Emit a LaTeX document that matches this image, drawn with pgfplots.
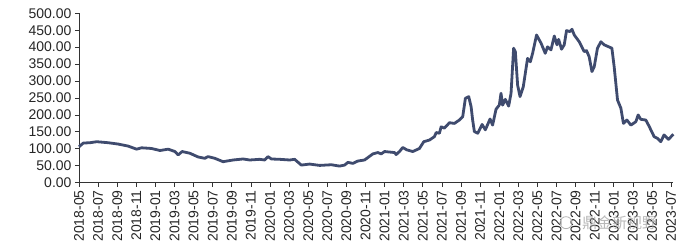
\documentclass[border=0pt]{standalone}
\usepackage{pgfplots}
\pgfplotsset{compat=1.18}
\usepackage{fontspec}
\setmainfont{Liberation Sans}
\newfontfamily\cjk{Noto Sans CJK SC}
\definecolor{linec}{HTML}{3F4B6E}
\begin{document}
\begin{tikzpicture}
\useasboundingbox (-79pt,-65.3pt) rectangle (621pt,182.7pt);
\begin{axis}[
  at={(0pt,0pt)}, anchor=south west,
  scale only axis, width=594pt, height=169.4pt,
  xmin=0, xmax=62.2, ymin=0, ymax=500,
  axis x line*=bottom, axis y line*=left,
  axis line style={black!80, line width=0.8pt},
  tick style={black!80, line width=0.8pt},
  tick align=outside, major tick length=4pt,
  ytick={0,50,...,500},
  yticklabel style={/pgf/number format/.cd, fixed, fixed zerofill, precision=2, assume math mode=true},
  xtick={0,2,...,62},
  xticklabels={2018-05,2018-07,2018-09,2018-11,2019-01,2019-03,2019-05,2019-07,2019-09,2019-11,2020-01,2020-03,2020-05,2020-07,2020-09,2020-11,2021-01,2021-03,2021-05,2021-07,2021-09,2021-11,2022-01,2022-03,2022-05,2022-07,2022-09,2022-11,2023-01,2023-03,2023-05,2023-07},
  xticklabel style={rotate=90, anchor=east},
  ticklabel style={font=\fontsize{14}{14}\selectfont, text=black!85},
  clip=false,
]
\addplot[linec, line width=2.8pt, line join=round] coordinates {
(0,106) (0.45,117) (1.15,118) (1.85,121) (3.06,118) (4.11,114) (5.15,108) (6.03,99)
(6.56,103) (7.60,101) (8.47,95) (9.34,99) (10.04,92) (10.38,82) (10.80,92) (11.60,87)
(12.47,76) (13.17,72) (13.52,77) (14.22,72) (15.09,62) (16.13,67) (17.18,70) (17.88,67)
(18.92,69) (19.45,67) (19.79,77) (20.15,70) (21.01,69) (22.06,67) (22.58,69) (23.28,52)
(24.15,55) (25.20,51) (26.42,53) (27.29,49) (27.81,52) (28.16,60) (28.68,57) (29.20,64)
(29.90,67) (30.77,85) (31.29,89) (31.65,85) (31.99,92) (33.04,89) (33.21,83) (33.56,92)
(33.90,104) (34.32,97) (34.95,92) (35.65,101) (36.10,121) (36.70,126) (37.22,136) (37.40,148)
(37.74,146) (37.92,165) (38.26,161) (38.79,177) (39.31,175) (39.83,185) (40.18,195) (40.46,249)
(40.81,254) (41.06,224) (41.22,185) (41.40,151) (41.75,146) (42.21,172) (42.55,156) (43.04,188)
(43.31,170) (43.67,217) (44.01,229) (44.19,264) (44.36,229) (44.64,246) (44.99,226) (45.24,264)
(45.51,397) (45.69,387) (45.93,288) (46.18,254) (46.52,283) (46.97,367) (47.26,357) (47.50,382)
(47.91,436) (48.38,412) (48.82,382) (49.06,401) (49.42,392) (49.77,433) (50.05,407) (50.22,423)
(50.53,394) (50.81,407) (51.05,449) (51.41,446) (51.62,453) (51.86,436) (52.38,416) (52.90,387)
(53.14,390) (53.42,372) (53.71,328) (53.95,342) (54.29,397) (54.65,416) (54.99,407) (55.80,397)
(56.04,342) (56.39,244) (56.74,220) (57.01,175) (57.37,185) (57.79,170) (58.31,180) (58.55,200)
(58.83,187) (59.35,185) (59.69,167) (60.22,136) (60.57,131) (60.92,121) (61.26,141) (61.73,128)
(62.24,143)
};
\draw[black!30, line width=0.8pt] (axis cs:51.0,-118) circle (6pt);
\node[anchor=west, text=black!35, opacity=0.8, font=\cjk\fontsize{15}{15}\selectfont] at (axis cs:52.3,-118) {鼎金新视野};
\end{axis}
\end{tikzpicture}
\end{document}
